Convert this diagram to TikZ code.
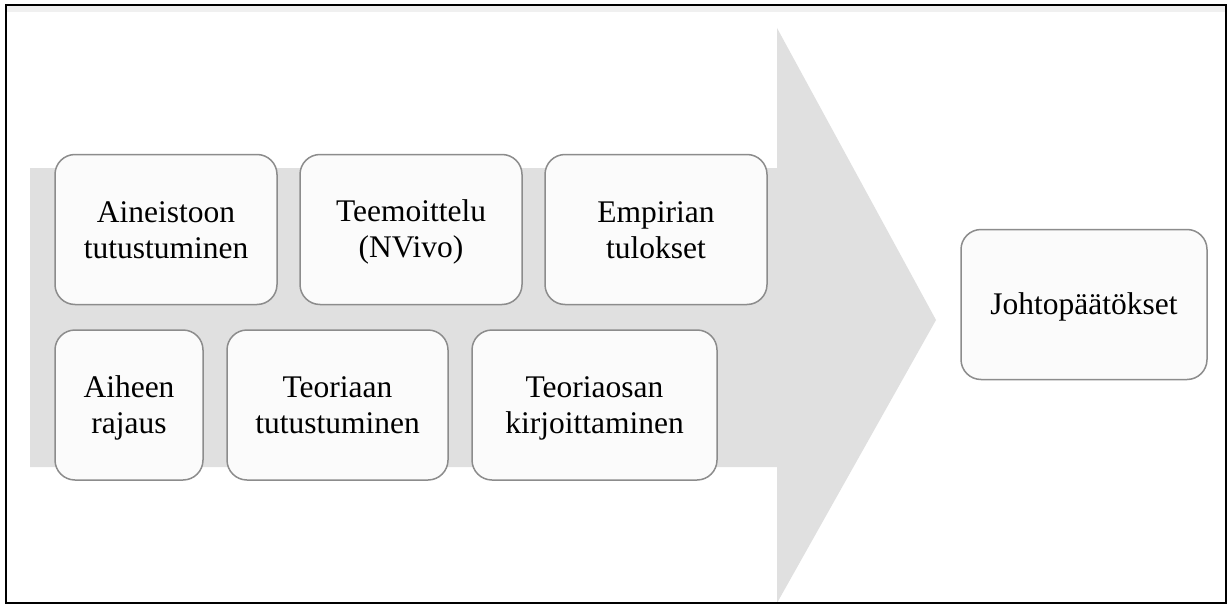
\documentclass[tikz,border=0pt]{standalone}
\usepackage{fontspec}
\setmainfont{Liberation Serif}
\definecolor{arrowgray}{HTML}{E0E0E0}
\definecolor{boxedge}{HTML}{8C8C8C}
\definecolor{boxfill}{HTML}{FBFBFB}
\newcommand\mystrut{\rule[-6pt]{0pt}{33pt}}
\tikzset{
  stepbox/.style={draw=boxedge, line width=1.5pt, fill=boxfill, rounded corners=20pt,
    minimum height=150pt, inner sep=0pt, align=center,
    font=\fontsize{31.5}{36}\selectfont},
}
\begin{document}
\begin{tikzpicture}[x=1pt,y=-1pt]
\useasboundingbox (0,0) rectangle (1231,607);
\fill[white] (0,0) rectangle (1231,607);
% shadow under top border
\fill[black!6] (7,6) rectangle (1225,12);
% big arrow
\fill[arrowgray] (30,168) -- (777,168) -- (777,28) -- (936,320) -- (777,603) -- (777,467) -- (30,467) -- cycle;
% frame
\draw[line width=2.2pt] (6,5) rectangle (1226,603);
% boxes
\node[stepbox, minimum width=222pt] (a) at (166,229.5) {\mystrut Aineistoon\\\mystrut tutustuminen};
\node[stepbox, minimum width=222pt] (b) at (411,229.5) {\mystrut Teemoittelu\\\mystrut (NVivo)};
\node[stepbox, minimum width=222pt] (c) at (656,229.5) {\mystrut Empirian\\\mystrut tulokset};
\node[stepbox, minimum width=148pt] (d) at (129,405) {\mystrut Aiheen\\\mystrut rajaus};
\node[stepbox, minimum width=221pt] (e) at (337.5,405) {\mystrut Teoriaan\\\mystrut tutustuminen};
\node[stepbox, minimum width=245pt] (f) at (594.5,405) {\mystrut Teoriaosan\\\mystrut kirjoittaminen};
\node[stepbox, minimum width=246pt] (g) at (1084,304.5) {\mystrut Johtopäätökset};
\end{tikzpicture}
\end{document}
